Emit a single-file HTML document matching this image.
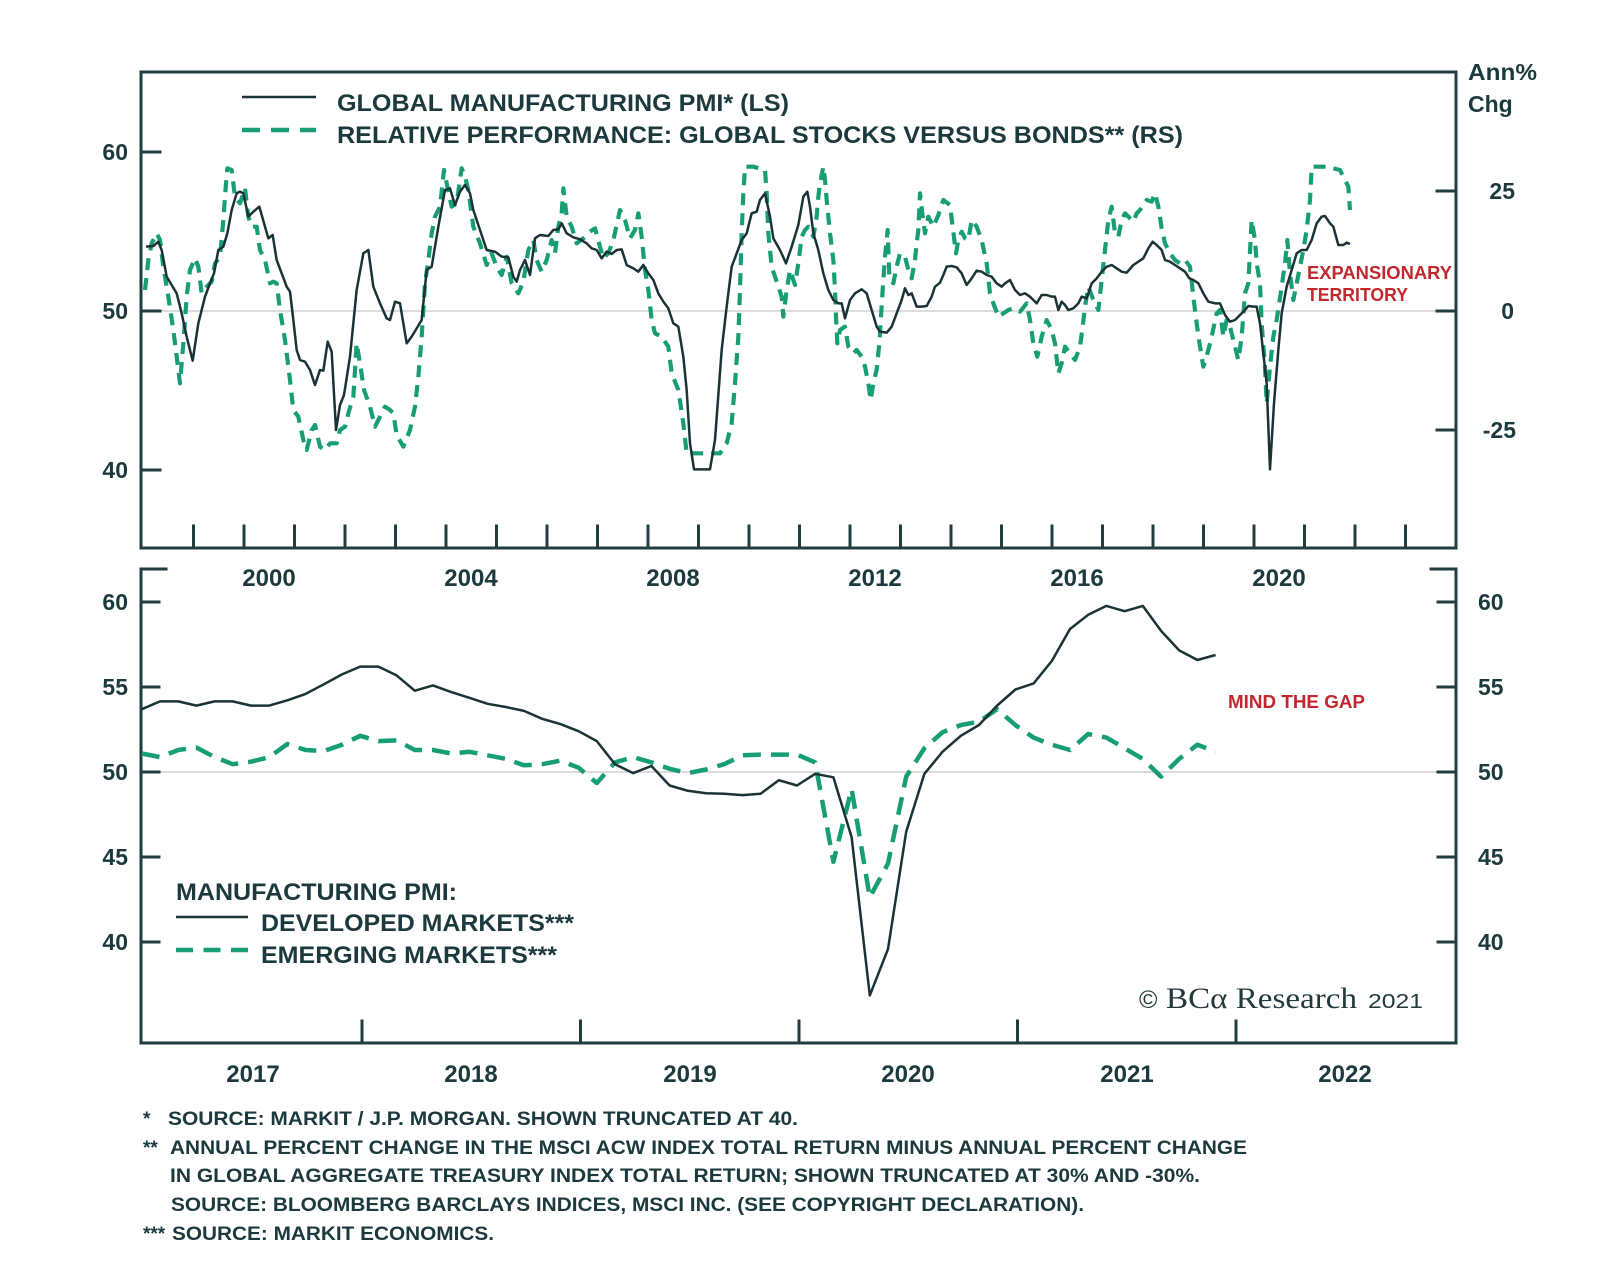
<!DOCTYPE html>
<html><head><meta charset="utf-8"><style>
html,body{margin:0;padding:0;background:#fff;}
svg{display:block;}
text{font-family:"Liberation Sans",Arial,sans-serif;fill:#1c3a3d;}
.b{font-weight:bold;}
</style></head><body>
<svg width="1600" height="1272" viewBox="0 0 1600 1272" xmlns="http://www.w3.org/2000/svg">
<rect width="1600" height="1272" fill="#fff"/>

<!-- ===== TOP PANEL ===== -->
<line x1="141" y1="311" x2="1456" y2="311" stroke="#c6c6c6" stroke-width="1.3"/>
<g stroke="#223d40" stroke-width="3" fill="none" stroke-linecap="square">
  <path d="M141,72 H1456 V548 H141 Z"/>
  <!-- left ticks -->
  <path d="M141,152 H160 M141,311 H160 M141,470 H160"/>
  <!-- right ticks -->
  <path d="M1437,191 H1456 M1437,311 H1456 M1437,430 H1456"/>
  <!-- x ticks -->
  <path d="M193.5,548 V526 M244,548 V526 M294.5,548 V526 M345,548 V526 M395.5,548 V526 M446,548 V526 M496.5,548 V526 M547,548 V526 M597.5,548 V526 M648,548 V526 M698.5,548 V526 M749,548 V526 M799.5,548 V526 M850,548 V526 M900.5,548 V526 M951,548 V526 M1001.5,548 V526 M1052,548 V526 M1102.5,548 V526 M1153,548 V526 M1203.5,548 V526 M1254,548 V526 M1304.5,548 V526 M1355,548 V526 M1405.5,548 V526"/>
</g>

<g transform="translate(140 150) scale(0.333333)" fill="none">
<path stroke="#179e74" stroke-width="12.5" stroke-dasharray="36 24" stroke-linejoin="round" d="M15,420 L25,330 35,280 50,250 60,270 70,350 85,440 100,540 110,620 120,700 130,580 140,440 150,360 165,325 175,350 185,430 200,410 215,395 225,340 240,320 250,210 258,100 262,55 275,60 285,140 300,160 315,115 325,200 335,230 350,230 360,300 375,330 390,400 400,395 410,400 420,480 435,570 450,690 460,780 475,800 490,870 500,900 515,840 525,825 540,890 555,900 570,880 590,880 600,840 615,830 625,790 640,740 650,580 660,640 672,720 690,770 705,830 720,800 735,770 750,780 760,790 770,855 790,890 810,840 825,770 835,680 845,560 855,400 865,330 875,250 885,200 900,170 912,60 920,100 935,170 950,160 965,55 975,80 985,120 1000,230 1020,280 1040,345 1055,310 1070,350 1085,375 1100,320 1115,400 1135,430 1150,395 1165,300 1180,270 1190,330 1205,365 1220,330 1235,270 1245,310 1255,230 1265,190 1270,115 1280,200 1295,230 1310,280 1330,265 1350,245 1365,235 1380,290 1390,325 1405,310 1420,270 1430,225 1440,180 1455,210 1470,265 1485,240 1495,190 1505,260 1515,360 1525,420 1535,510 1545,550 1565,560 1585,590 1595,670 1615,720 1630,820 1640,910 1680,910 1740,910 1760,880 1775,820 1785,700 1795,560 1800,420 1805,250 1810,130 1815,50 1840,50 1875,60 1880,130 1885,250 1895,350 1910,395 1925,440 1930,500 1940,420 1950,360 1965,405 1975,340 1985,260 1995,240 2005,230 2020,260 2030,200 2035,140 2040,100 2050,50 2055,90 2060,150 2070,250 2080,330 2085,420 2088,500 2092,580 2100,540 2115,530 2125,590 2140,610 2150,600 2165,620 2175,650 2185,700 2192,750 2202,690 2210,660 2218,580 2228,420 2235,320 2243,240 2248,380 2260,400 2270,350 2280,310 2295,320 2305,360 2315,385 2325,330 2330,280 2335,240 2340,130 2348,200 2355,250 2365,200 2380,230 2395,195 2410,150 2430,165 2438,230 2448,310 2455,270 2465,245 2475,265 2485,270 2495,210 2510,230 2525,270 2540,340 2550,430 2560,460 2575,500 2590,490 2605,480 2620,475 2640,485 2660,460 2670,510 2680,580 2692,620 2705,560 2720,510 2735,540 2745,580 2755,670 2765,640 2775,590 2790,610 2805,630 2820,590 2828,530 2835,470 2845,410 2860,450 2875,480 2885,390 2895,300 2905,210 2915,170 2925,250 2935,260 2945,210 2955,190 2970,205 2980,215 2990,190 3000,180 3020,150 3035,155 3045,130 3055,170 3065,235 3075,280 3090,310 3105,330 3120,340 3135,330 3150,350 3160,440 3170,520 3180,590 3190,650 3205,600 3215,560 3230,490 3240,480 3250,560 3260,510 3270,530 3280,570 3295,630 3305,560 3315,430 3325,400 3335,210 3345,270 3350,340 3360,400 3365,520 3375,650 3380,760 3390,650 3400,560 3410,510 3425,410 3435,340 3442,270 3450,370 3460,450 3470,400 3490,300 3500,240 3510,150 3515,50 3560,50 3600,60 3625,110 3630,180"/>
<path stroke="#1b3336" stroke-width="7.5" stroke-linejoin="round" d="M18,290 L40,288 55,275 65,300 80,380 95,405 110,430 125,490 140,560 158,632 175,520 195,440 210,400 222,370 235,300 250,290 262,250 275,180 290,130 300,125 310,130 325,200 340,185 358,170 375,230 385,265 398,255 410,330 425,370 440,410 450,425 460,510 470,600 480,630 495,635 510,660 525,705 540,660 550,662 563,575 575,605 588,840 600,765 612,735 630,620 650,420 670,310 685,300 700,410 720,460 740,505 750,510 765,455 780,460 800,580 815,560 830,535 845,510 860,360 875,350 895,230 915,120 930,115 945,165 960,125 975,105 990,130 1000,180 1020,240 1040,300 1065,305 1085,320 1105,322 1120,380 1130,395 1140,360 1155,330 1170,375 1185,265 1200,255 1225,258 1240,240 1255,238 1265,220 1280,250 1300,262 1320,268 1340,280 1355,295 1370,300 1385,325 1400,305 1415,312 1430,300 1445,298 1460,345 1480,355 1495,365 1510,345 1525,370 1540,390 1555,430 1570,455 1585,475 1600,520 1615,530 1630,620 1640,720 1650,880 1662,958 1710,958 1725,870 1745,600 1760,470 1775,350 1790,310 1805,270 1820,250 1835,190 1850,185 1860,150 1875,130 1890,200 1900,265 1920,300 1938,340 1955,290 1975,225 1990,140 2002,125 2010,170 2020,250 2035,300 2050,370 2065,420 2080,450 2095,460 2105,460 2115,505 2130,450 2145,430 2165,418 2180,430 2195,480 2210,530 2220,545 2240,548 2255,530 2270,490 2285,450 2295,415 2305,435 2315,430 2330,470 2345,470 2360,468 2375,440 2385,410 2400,398 2410,375 2420,350 2435,348 2450,352 2465,370 2480,405 2495,385 2510,362 2525,365 2540,375 2555,380 2570,400 2585,410 2595,400 2610,390 2625,420 2640,435 2655,430 2670,440 2690,460 2705,435 2720,435 2735,440 2745,440 2755,480 2765,455 2775,465 2785,480 2800,475 2815,460 2825,440 2840,445 2855,400 2870,385 2885,365 2900,350 2915,345 2930,355 2945,365 2960,368 2980,345 2995,335 3010,325 3025,295 3038,275 3050,285 3065,300 3075,330 3090,335 3105,345 3120,355 3135,365 3148,385 3160,390 3175,400 3190,430 3205,455 3225,460 3240,460 3255,495 3270,515 3285,510 3300,495 3315,480 3325,468 3340,470 3350,470 3360,520 3370,610 3380,700 3390,958 3402,760 3415,600 3425,490 3440,410 3455,360 3470,310 3485,300 3500,300 3515,270 3530,220 3545,200 3555,198 3570,220 3580,230 3595,285 3610,285 3620,278 3630,282"/>
</g>

<!-- top legend -->
<line x1="242" y1="97" x2="316" y2="97" stroke="#1b3336" stroke-width="2.5"/>
<line x1="242" y1="130" x2="316" y2="130" stroke="#179e74" stroke-width="4.5" stroke-dasharray="18 11"/>
<text class="b" x="337" y="111" font-size="24" textLength="452" lengthAdjust="spacingAndGlyphs">GLOBAL MANUFACTURING PMI* (LS)</text>
<text class="b" x="337" y="143" font-size="24" textLength="846" lengthAdjust="spacingAndGlyphs">RELATIVE PERFORMANCE: GLOBAL STOCKS VERSUS BONDS** (RS)</text>

<!-- top axis labels -->
<g class="b" font-size="23" font-weight="bold">
<text x="128" y="160" text-anchor="end">60</text>
<text x="128" y="319" text-anchor="end">50</text>
<text x="128" y="478" text-anchor="end">40</text>
<text x="1515" y="199" text-anchor="end">25</text>
<text x="1514" y="319" text-anchor="end">0</text>
<text x="1516" y="438" text-anchor="end">-25</text>
<text x="1468" y="80" textLength="69" lengthAdjust="spacingAndGlyphs">Ann%</text>
<text x="1468" y="112">Chg</text>
</g>
<text class="b" x="1307" y="279" font-size="18" fill="#c1272d" style="fill:#c1272d" textLength="145" lengthAdjust="spacingAndGlyphs">EXPANSIONARY</text>
<text class="b" x="1307" y="301" font-size="18" style="fill:#c1272d" textLength="101" lengthAdjust="spacingAndGlyphs">TERRITORY</text>

<!-- top year labels -->
<g class="b" font-size="24" font-weight="bold" text-anchor="middle">
<text x="269" y="586">2000</text>
<text x="471" y="586">2004</text>
<text x="673" y="586">2008</text>
<text x="875" y="586">2012</text>
<text x="1077" y="586">2016</text>
<text x="1279" y="586">2020</text>
</g>

<!-- ===== BOTTOM PANEL ===== -->
<line x1="141" y1="772" x2="1456" y2="772" stroke="#c6c6c6" stroke-width="1.3"/>
<g stroke="#223d40" stroke-width="3" fill="none" stroke-linecap="square">
  <path d="M166,569 H141 V1043 H1456 V569 H1431"/>
  <path d="M141,602 H159 M141,687 H159 M141,772 H159 M141,857 H159 M141,942 H159"/>
  <path d="M1438,602 H1456 M1438,687 H1456 M1438,772 H1456 M1438,857 H1456 M1438,942 H1456"/>
  <path d="M362,1043 V1021 M580.5,1043 V1021 M799,1043 V1021 M1017.5,1043 V1021 M1236,1043 V1021"/>
</g>

<polyline fill="none" stroke="#179e74" stroke-width="4.5" stroke-dasharray="18 10" stroke-linejoin="round" points="141.8,753.5 160,757.1 178.2,750 196.4,747.5 214.6,757.1 232.8,764.2 251,761.7 269.2,757.1 287.4,744 305.6,750 323.8,751.1 342,744.7 360.2,735.8 378.4,741.1 396.6,740.4 414.8,750 433,750 451.2,753.5 469.4,751.8 487.6,755.3 505.8,758.9 524,765.3 542.2,764.2 560.4,760.6 578.6,767.7 596.8,783 615,762.4 633.2,757.1 651.4,762.4 669.6,768.8 687.8,773.1 706,769.5 724.2,764.2 742.4,755.3 760.6,754.6 778.8,754.6 797,754.6 815.2,762.4 833.4,861.8 851.6,789 869.8,897.3 888,863.6 906.2,776.6 924.4,748.2 942.6,732.2 960.8,725.1 979,721.6 997.2,709.2 1015.4,725.1 1033.6,737.6 1051.8,744.7 1070,750 1088.2,734 1106.4,737.6 1124.6,748.2 1142.8,758.9 1161,776.6 1179.2,758.9 1197.4,744.7 1215.6,751.8"/>
<polyline fill="none" stroke="#1b3336" stroke-width="2.5" stroke-linejoin="round" points="141.8,709.2 160,701.4 178.2,701.4 196.4,705.6 214.6,701.4 232.8,701.4 251,705.6 269.2,705.6 287.4,700.3 305.6,693.9 323.8,684.3 342,674.4 360.2,666.6 378.4,666.6 396.6,675.4 414.8,690.7 433,685.4 451.2,692.1 469.4,697.8 487.6,703.8 505.8,707 524,710.9 542.2,718.8 560.4,724.1 578.6,731.2 596.8,741.1 615,764.2 633.2,773.1 651.4,766 669.6,785.5 687.8,790.8 706,793.3 724.2,793.7 742.4,795.1 760.6,793.7 778.8,780.2 797,785.5 815.2,773.8 833.4,777.3 851.6,837.1 869.8,995.4 888,949.1 906.2,831.7 924.4,773.8 942.6,751.7 960.8,735.8 979,725 997.2,705.5 1015.4,689.5 1033.6,683.4 1051.8,661 1070,629 1088.2,614.8 1106.4,605.9 1124.6,611.2 1142.8,605.9 1161,630.8 1179.2,650.4 1197.4,660 1215.6,655"/>

<!-- bottom axis labels -->
<g class="b" font-size="23" font-weight="bold">
<text x="128" y="610" text-anchor="end">60</text>
<text x="128" y="695" text-anchor="end">55</text>
<text x="128" y="780" text-anchor="end">50</text>
<text x="128" y="865" text-anchor="end">45</text>
<text x="128" y="950" text-anchor="end">40</text>
<text x="1478" y="610">60</text>
<text x="1478" y="695">55</text>
<text x="1478" y="780">50</text>
<text x="1478" y="865">45</text>
<text x="1478" y="950">40</text>
</g>
<g class="b" font-size="24" font-weight="bold" text-anchor="middle">
<text x="253" y="1082">2017</text>
<text x="471" y="1082">2018</text>
<text x="690" y="1082">2019</text>
<text x="908" y="1082">2020</text>
<text x="1127" y="1082">2021</text>
<text x="1345" y="1082">2022</text>
</g>

<!-- bottom legend -->
<text class="b" x="176" y="900" font-size="24" textLength="281" lengthAdjust="spacingAndGlyphs">MANUFACTURING PMI:</text>
<line x1="176" y1="917" x2="248" y2="917" stroke="#1b3336" stroke-width="2.5"/>
<line x1="176" y1="950" x2="248" y2="950" stroke="#179e74" stroke-width="4.5" stroke-dasharray="17 10.5"/>
<text class="b" x="261" y="931" font-size="24" textLength="313" lengthAdjust="spacingAndGlyphs">DEVELOPED MARKETS***</text>
<text class="b" x="261" y="963" font-size="24" textLength="296" lengthAdjust="spacingAndGlyphs">EMERGING MARKETS***</text>

<text class="b" x="1228" y="708" font-size="18" style="fill:#c1272d" textLength="137" lengthAdjust="spacingAndGlyphs">MIND THE GAP</text>

<!-- logo -->
<text x="1139" y="1008" font-size="25" style="fill:#23393b">©</text>
<text x="1166" y="1008" font-size="30" style="font-family:'Liberation Serif',serif;fill:#23393b" textLength="191" lengthAdjust="spacingAndGlyphs">BCα Research</text>
<text x="1368" y="1008" font-size="20" style="fill:#23393b" textLength="55" lengthAdjust="spacingAndGlyphs">2021</text>

<!-- footnotes -->
<g class="b" font-size="19" font-weight="bold">
<text x="143" y="1125">*</text>
<text x="168" y="1125" textLength="630" lengthAdjust="spacingAndGlyphs">SOURCE: MARKIT / J.P. MORGAN. SHOWN TRUNCATED AT 40.</text>
<text x="143" y="1154">**</text>
<text x="170" y="1154" textLength="1077" lengthAdjust="spacingAndGlyphs">ANNUAL PERCENT CHANGE IN THE MSCI ACW INDEX TOTAL RETURN MINUS ANNUAL PERCENT CHANGE</text>
<text x="170" y="1182" textLength="1030" lengthAdjust="spacingAndGlyphs">IN GLOBAL AGGREGATE TREASURY INDEX TOTAL RETURN; SHOWN TRUNCATED AT 30% AND -30%.</text>
<text x="171" y="1211" textLength="913" lengthAdjust="spacingAndGlyphs">SOURCE: BLOOMBERG BARCLAYS INDICES, MSCI INC. (SEE COPYRIGHT DECLARATION).</text>
<text x="143" y="1240">***</text>
<text x="172" y="1240" textLength="322" lengthAdjust="spacingAndGlyphs">SOURCE: MARKIT ECONOMICS.</text>
</g>
</svg>
</body></html>
